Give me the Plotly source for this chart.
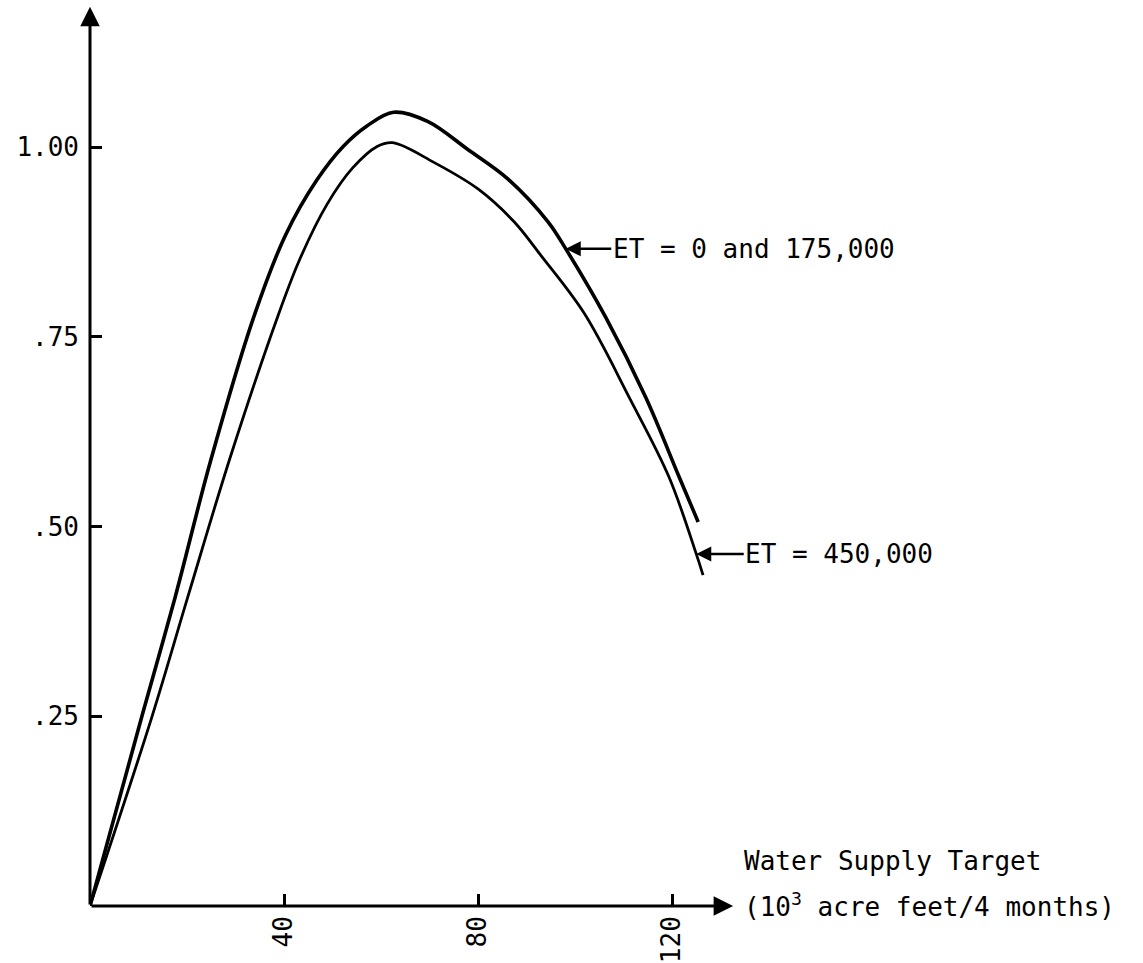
import plotly.graph_objects as go

# Upper curve: ET = 0 and 175,000
target_upper = [0, 10.7, 17.6, 24.8, 33.7, 40.3, 46.8, 52.2, 57.1, 62.6, 69.6,
                77.9, 86.2, 94.4, 98.1, 106.4, 114.6, 121.5, 125.4]
value_upper = [0, 0.250, 0.408, 0.585, 0.775, 0.884, 0.957, 1.001, 1.028, 1.046, 1.034,
               0.997, 0.958, 0.902, 0.866, 0.775, 0.670, 0.565, 0.506]

# Lower curve: ET = 450,000
target_lower = [0, 12.8, 20.2, 28.9, 38.6, 43.3, 48.9, 54.2, 59.2, 62.4, 70.9, 80.0,
                87.4, 93.0, 101.9, 111.2, 119.4, 125.0, 126.4]
value_lower = [0, 0.250, 0.408, 0.591, 0.775, 0.853, 0.925, 0.973, 1.001, 1.006, 0.980, 0.945,
               0.902, 0.857, 0.781, 0.670, 0.565, 0.464, 0.436]

x_ticks = [40, 80, 120]
x_tick_text = ["40", "80", "120"]
y_ticks = [0.25, 0.50, 0.75, 1.00]
y_tick_text = [".25", ".50", ".75", "1.00"]

label_upper = "ET = 0 and 175,000"
label_lower = "ET = 450,000"
x_title_1 = "Water Supply Target"
x_title_2 = "(10<sup>3</sup> acre feet/4 months)"

FONT = "DejaVu Sans Mono"
W, H = 1143, 963
L, B = 90, 52
PX_PER_X = 4.85
PX_PER_Y = 763.0
X_MAX = (W - L) / PX_PER_X
Y_MAX = (H - B) / PX_PER_Y
X_AXIS_END = 132.6
Y_AXIS_END = 1.185

fig = go.Figure()
fig.add_trace(go.Scatter(x=target_upper, y=value_upper, mode="lines",
                         line=dict(color="black", width=3.6, shape="spline", smoothing=1.0),
                         showlegend=False, hoverinfo="skip"))
fig.add_trace(go.Scatter(x=target_lower, y=value_lower, mode="lines",
                         line=dict(color="black", width=2.8, shape="spline", smoothing=1.0),
                         showlegend=False, hoverinfo="skip"))

annotations = []
# axis lines with arrowheads
for tip in ((X_AXIS_END, 0), (0, Y_AXIS_END)):
    annotations.append(dict(x=tip[0], y=tip[1], ax=0, ay=0, xref="x", yref="y",
                            axref="x", ayref="y", text="", showarrow=True,
                            arrowhead=2, arrowsize=1.3, arrowwidth=3, arrowcolor="black",
                            standoff=0, startstandoff=0))
# curve labels
annotations.append(dict(x=target_upper[14], y=value_upper[14], xref="x", yref="y",
                        text=label_upper, showarrow=True, ax=188, ay=0,
                        arrowhead=2, arrowsize=1.2, arrowwidth=2.5, arrowcolor="black",
                        font=dict(family=FONT, size=26, color="black")))
annotations.append(dict(x=target_lower[17], y=value_lower[17], xref="x", yref="y",
                        text=label_lower, showarrow=True, ax=143, ay=0,
                        arrowhead=2, arrowsize=1.2, arrowwidth=2.5, arrowcolor="black",
                        font=dict(family=FONT, size=26, color="black")))
# x-axis title
annotations.append(dict(x=134.4, y=(911 - 866) / PX_PER_Y, xref="x", yref="y",
                        text=x_title_1, showarrow=False, xanchor="left", yanchor="middle",
                        font=dict(family=FONT, size=26, color="black")))
annotations.append(dict(x=134.4, y=(911 - 910) / PX_PER_Y, xref="x", yref="y",
                        text=x_title_2, showarrow=False, xanchor="left", yanchor="middle",
                        font=dict(family=FONT, size=26, color="black")))

fig.update_layout(
    width=W, height=H,
    margin=dict(l=L, r=0, t=0, b=B, pad=0),
    paper_bgcolor="white", plot_bgcolor="white",
    annotations=annotations,
    xaxis=dict(range=[0, X_MAX], showgrid=False, zeroline=False, showline=False,
               tickmode="array", tickvals=x_ticks, ticktext=x_tick_text,
               ticks="inside", ticklen=12, tickwidth=3, tickcolor="black",
               tickangle=-90, ticklabelstandoff=4,
               tickfont=dict(family=FONT, size=26, color="black")),
    yaxis=dict(range=[0, Y_MAX], showgrid=False, zeroline=False, showline=False,
               tickmode="array", tickvals=y_ticks, ticktext=y_tick_text,
               ticks="inside", ticklen=12, tickwidth=3, tickcolor="black",
               ticklabelstandoff=10,
               tickfont=dict(family=FONT, size=26, color="black")),
)

fig.write_html("out.html")
